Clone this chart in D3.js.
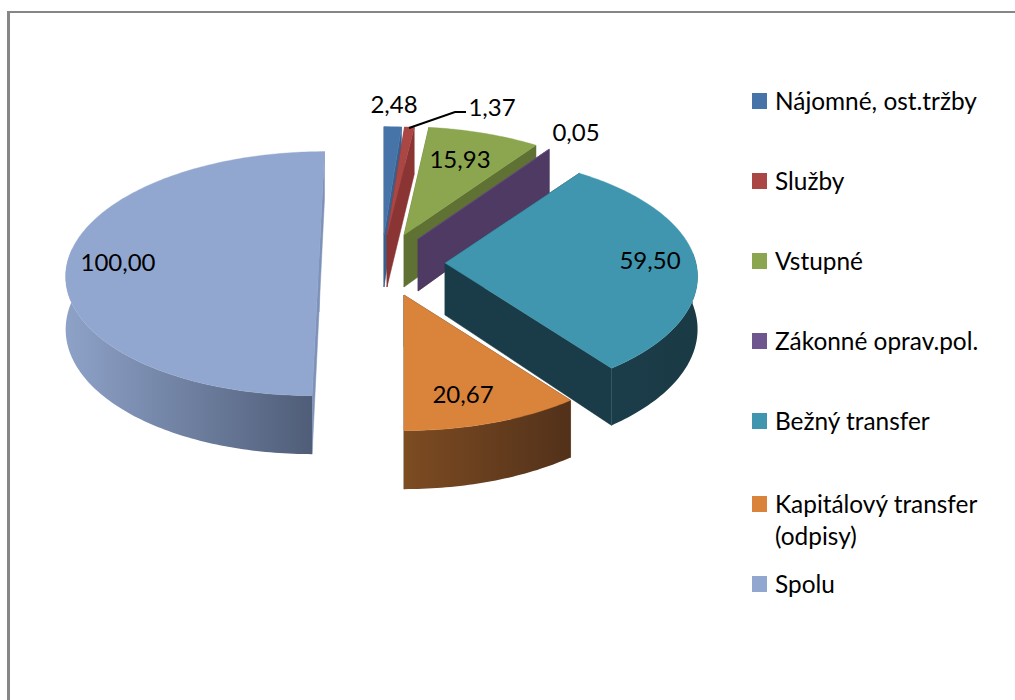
<!DOCTYPE html>
<html><head><meta charset="utf-8">
<script src="https://cdn.jsdelivr.net/npm/d3@7/dist/d3.min.js"></script>
<style>html,body{margin:0;background:#fff}svg{display:block}text{font-family:Lato,"Open Sans",sans-serif;fill:#000}</style>
</head><body><svg id="c" width="1015" height="700"></svg>
<script>
const categories = ["Nájomné, ost.tržby","Služby","Vstupné","Zákonné oprav.pol.","Bežný transfer","Kapitálový transfer (odpisy)","Spolu"];
const values = [2.48,1.37,15.93,0.05,59.50,20.67,100.00];
const valueLabels = ["2,48","1,37","15,93","0,05","59,50","20,67","100,00"];
const topColors = ["#4674a9","#aa4644","#8ba64e","#70568f","#3f96ae","#da843b","#92a7cf"];
const wallColors = ["#3a5f8c","#8a3533","#5f7233","#4e3a63","#1a3c48","#5c3719","#7e92b8"];
const rimColorsLeft = ["#3a5f8c","#8a3533","#5f7233","#4e3a63","#1b3d49","#7d4c22","#8ea2c8"];
const rimColorsRight = ["#3a5f8c","#8a3533","#5f7233","#4e3a63","#1a3a45","#52311a","#4f5d78"];

// layout (pixels)
const apex = [[384,235],[387,235],[404,235],[418,239],[445,263],[404,295],[319,260]];
const shear = [0,0,24,36,0,0,-55];
const labelPos = [[394,113],[492,116],[460,168],[576,141],[650,269],[463,403],[118,271]];
const legendY = [102,182,262,342,422,505,585];
const R=251, K=0.48, P=0.1115, DEPTH=52;

const svg=d3.select("#c");
const defs=svg.append("defs");
const pieGen=d3.pie().sort(null).value(d=>d).startAngle(0).endAngle(2*Math.PI);
const arcs=pieGen(values);

function project(i,theta,r,down){
  const Y=-Math.cos(theta)*r, X=Math.sin(theta)*r;
  const s=1/(1-P*Y);
  return [apex[i][0]+R*X*s+shear[i]*(s-1), apex[i][1]+R*K*Y*s+(down?DEPTH*s:0)];
}
const line=d3.line();
const order=[0,1,6,2,3,4,5];

svg.append("rect").attr("x",7).attr("y",11).attr("width",1008).attr("height",2).attr("fill","#868686");
svg.append("rect").attr("x",7).attr("y",11).attr("width",3).attr("height",689).attr("fill","#868686");

order.forEach(i=>{
  const a=arcs[i];
  const n=Math.max(2,Math.ceil((a.endAngle-a.startAngle)*60));
  const thetas=d3.range(n+1).map(k=>a.startAngle+(a.endAngle-a.startAngle)*k/n);
  const g=svg.append("g");
  // cut walls
  [a.startAngle,a.endAngle].forEach(t=>{
    g.append("path").attr("fill",wallColors[i]).attr("stroke",wallColors[i]).attr("stroke-width",0.5)
     .attr("d",line([project(i,t,0,false),project(i,t,1,false),project(i,t,1,true),project(i,t,0,true)])+"Z");
  });
  // rim: only the part facing the viewer
  const rimThetas=thetas.filter(t=>Math.cos(t)<0.1);
  const rimTop=thetas.map(t=>project(i,t,1,false));
  if(rimThetas.length>1){
    const rt=rimThetas.map(t=>project(i,t,1,false));
    const rb=rimThetas.map(t=>project(i,t,1,true)).reverse();
    const xs=rt.map(p=>p[0]);
    const gid="rim"+i;
    const gr=defs.append("linearGradient").attr("id",gid).attr("gradientUnits","userSpaceOnUse")
       .attr("x1",d3.min(xs)).attr("x2",d3.max(xs)).attr("y1",0).attr("y2",0);
    gr.append("stop").attr("offset",0).attr("stop-color",rimColorsLeft[i]);
    gr.append("stop").attr("offset",1).attr("stop-color",rimColorsRight[i]);
    g.append("path").attr("fill",`url(#${gid})`).attr("d",line(rt.concat(rb))+"Z");
  }
  // top face
  g.append("path").attr("fill",topColors[i]).attr("stroke",topColors[i]).attr("stroke-width",0.4)
   .attr("d",line([project(i,a.startAngle,0,false)].concat(rimTop))+"Z");
});

// leader line
svg.append("path").attr("fill","none").attr("stroke","#000").attr("stroke-width",2)
   .attr("d",line([[409,128],[455,112],[466,112]]));

// data labels
valueLabels.forEach((t,i)=>{
  svg.append("text").attr("x",labelPos[i][0]).attr("y",labelPos[i][1]).attr("text-anchor","middle")
     .attr("font-size",24).text(t);
});

// legend
categories.forEach((c,i)=>{
  const y=legendY[i];
  svg.append("rect").attr("x",752).attr("y",y-9).attr("width",15).attr("height",16).attr("fill",topColors[i]);
  const parts = i===5 ? ["Kapitálový transfer","(odpisy)"] : [c];
  parts.forEach((p,k)=>{
    svg.append("text").attr("x",775).attr("y",y+8+k*32).attr("font-size",24.4).text(p);
  });
});
</script></body></html>
